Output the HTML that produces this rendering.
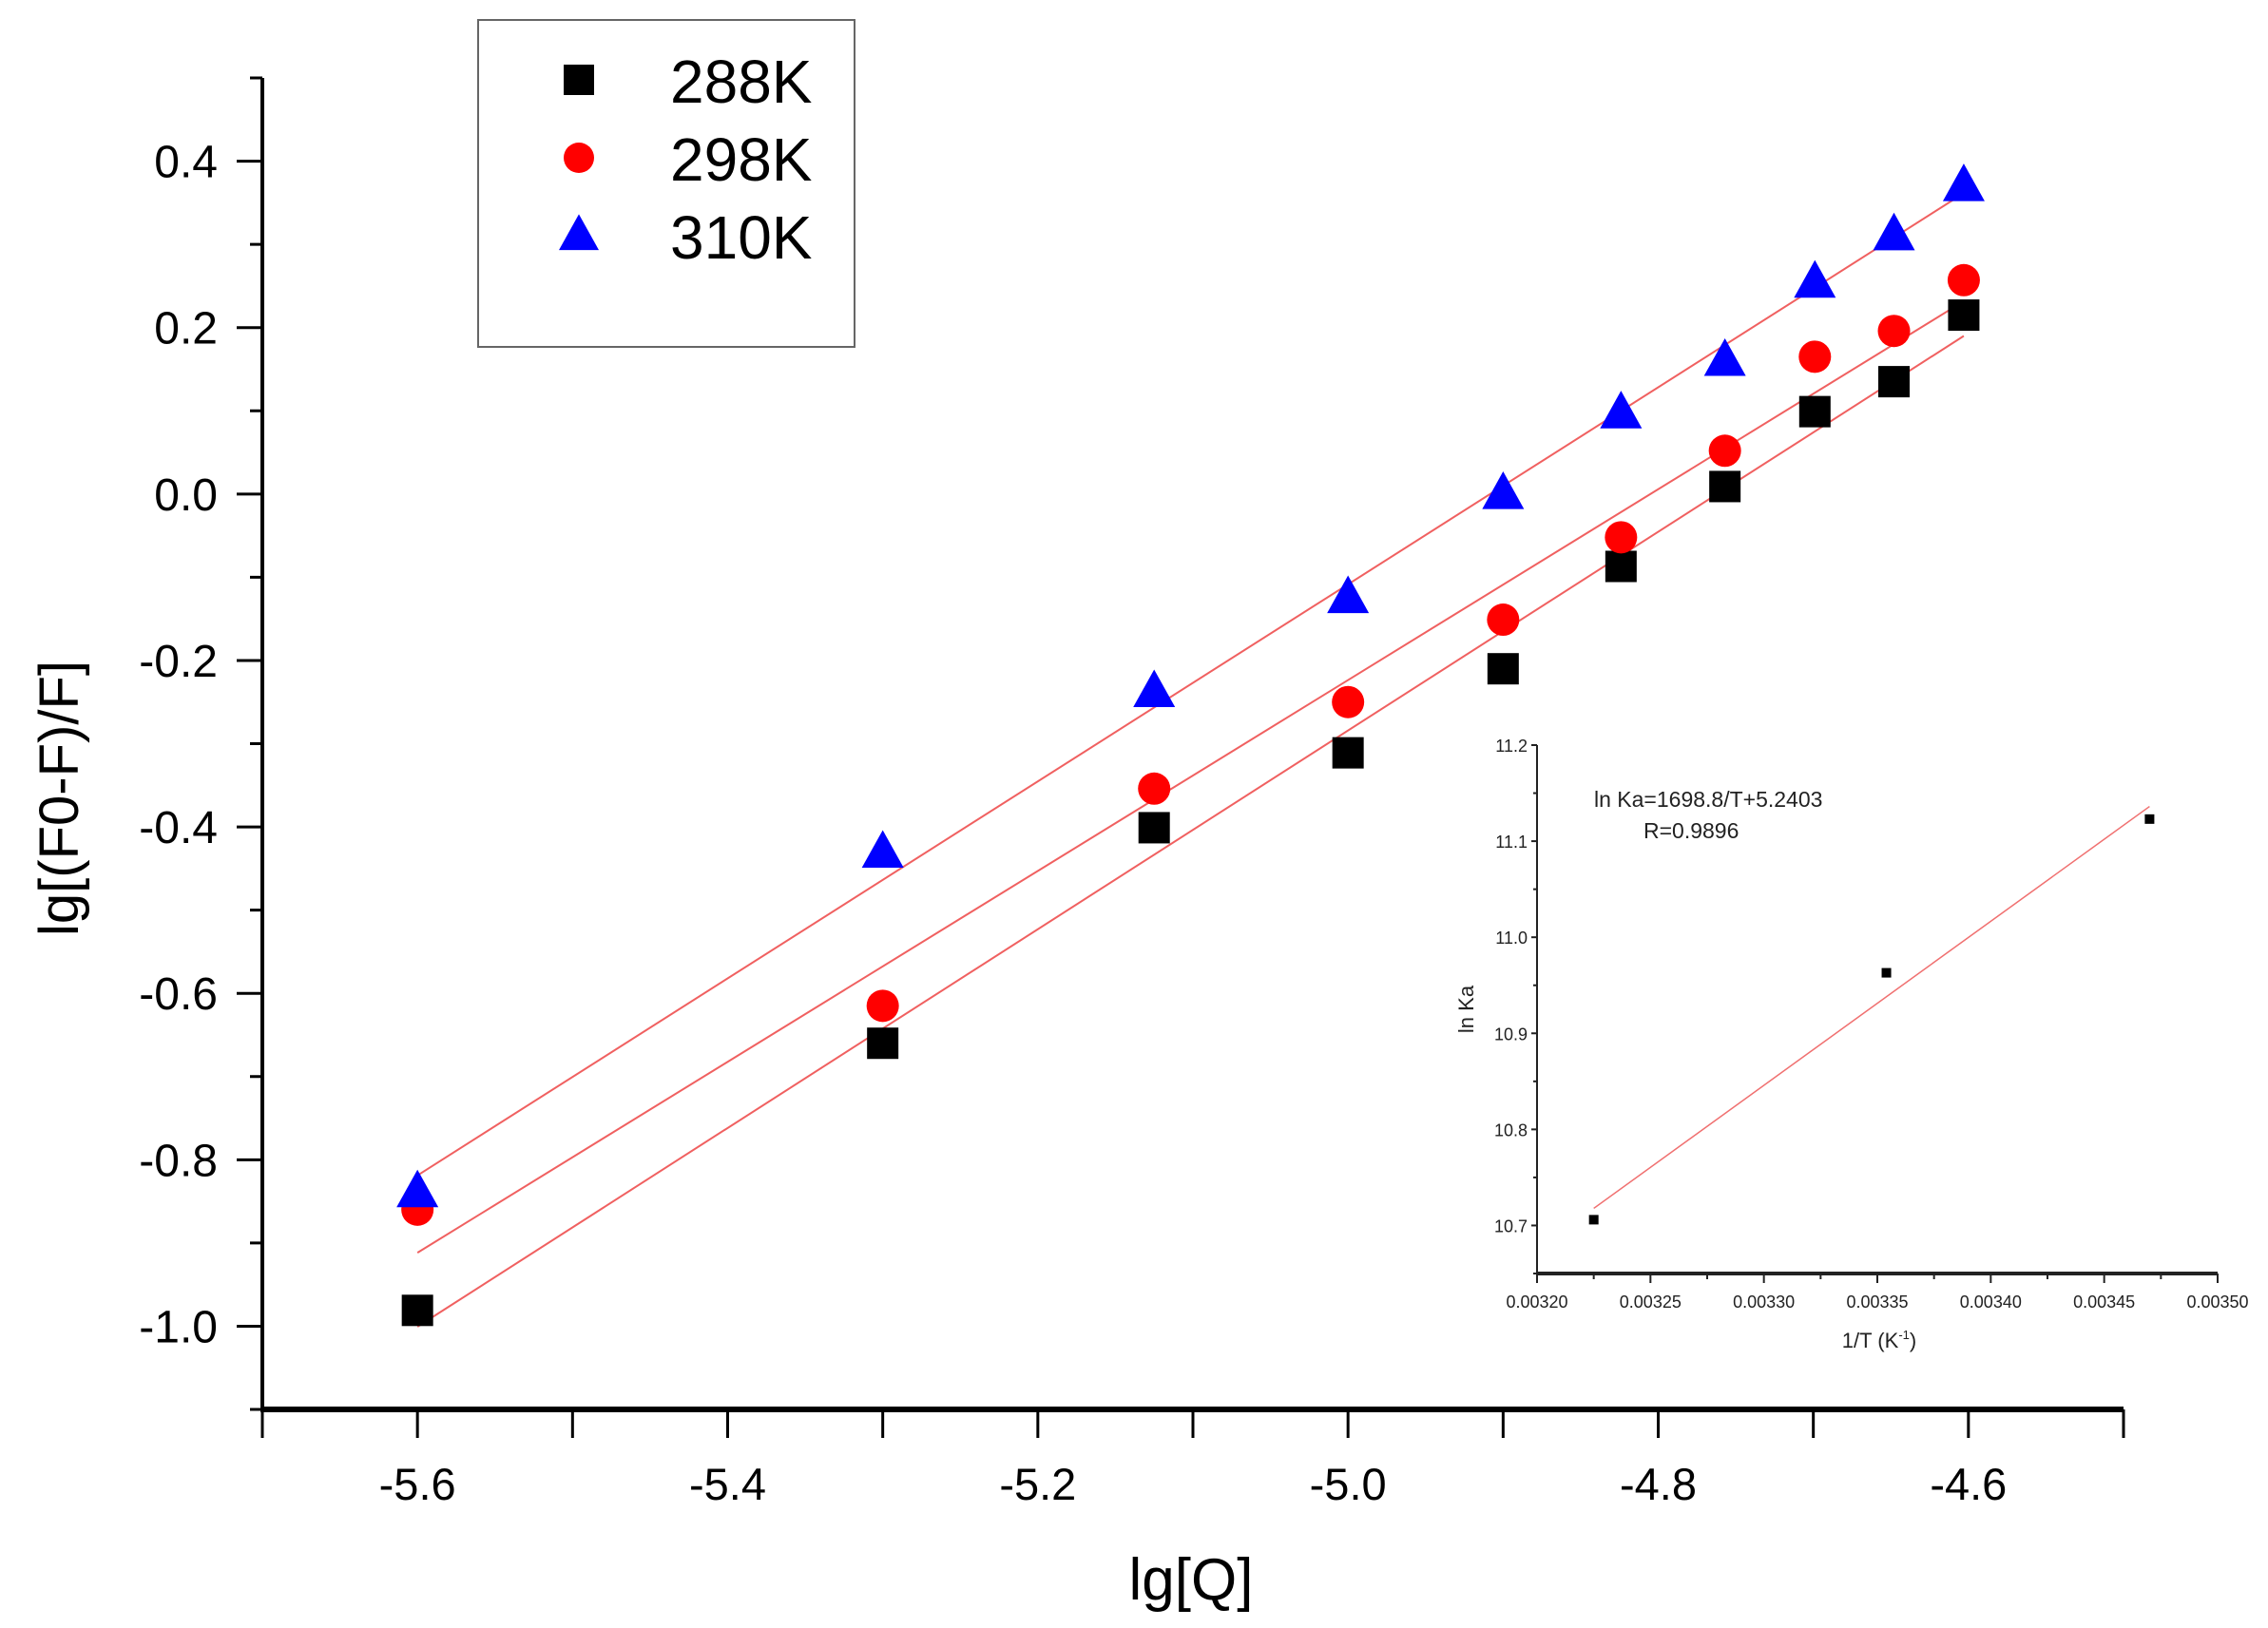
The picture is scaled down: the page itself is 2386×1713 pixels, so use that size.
<!DOCTYPE html>
<html><head><meta charset="utf-8"><style>
html,body{margin:0;padding:0;background:#fff;}
svg{display:block;font-family:"Liberation Sans",Arial,sans-serif;}
</style></head><body>
<svg id="chart" width="2386" height="1713" viewBox="0 0 2386 1713" xmlns="http://www.w3.org/2000/svg">
<rect width="2386" height="1713" fill="#fff"/>
<g id="main"></g>
<g id="inset"></g>
</svg>
<script>
const xValues = [-5.6, -5.3, -5.125, -5.0, -4.9, -4.824, -4.757, -4.699, -4.648, -4.603];
const series288 = [-0.981, -0.660, -0.401, -0.311, -0.210, -0.087, 0.009, 0.099, 0.135, 0.215];
const series298 = [-0.860, -0.615, -0.354, -0.250, -0.151, -0.052, 0.052, 0.165, 0.196, 0.257];
const series310 = [-0.839, -0.431, -0.238, -0.125, 0.000, 0.097, 0.160, 0.254, 0.311, 0.370];
const seriesNames = ["288K", "298K", "310K"];
const xTickLabels = ["-5.6", "-5.4", "-5.2", "-5.0", "-4.8", "-4.6"];
const yTickLabels = ["-1.0", "-0.8", "-0.6", "-0.4", "-0.2", "0.0", "0.2", "0.4"];
const insetX = [0.003225, 0.003354, 0.003470];
const insetY = [10.706, 10.963, 11.123];
const insetXTicks = ["0.00320", "0.00325", "0.00330", "0.00335", "0.00340", "0.00345", "0.00350"];
const insetYTicks = ["10.7", "10.8", "10.9", "11.0", "11.1", "11.2"];

const NS = "http://www.w3.org/2000/svg";
function mk(parent, tag, attrs, text) {
  const e = document.createElementNS(NS, tag);
  for (const k in attrs) e.setAttribute(k, attrs[k]);
  if (text !== undefined) e.textContent = text;
  parent.appendChild(e);
  return e;
}
const X0 = 276, X1 = 2234, Y0 = 1483, Y1 = 82;
const xMin = -5.7, xMax = -4.5, yMin = -1.1, yMax = 0.5;
const sx = v => X0 + (v - xMin) / (xMax - xMin) * (X1 - X0);
const sy = v => Y0 - (v - yMin) / (yMax - yMin) * (Y0 - Y1);
const main = document.getElementById("main");

let el;
el = mk(main, "line", {x1: X0, y1: Y1, x2: X0, y2: Y0 + 2, stroke: "#000", "stroke-width": 4});


el = mk(main, "line", {x1: X0 - 2, y1: Y0, x2: X1, y2: Y0, stroke: "#000", "stroke-width": 6});



for (let i = 0; i <= 12; i++) {
  const v = xMin + i * 0.1, x = sx(v);
  el = mk(main, "line", {x1: x, y1: Y0, x2: x, y2: Y0 + 30, stroke: "#000", "stroke-width": 3});
  
  
}
xTickLabels.forEach(t => {
  el = mk(main, "text", {x: sx(parseFloat(t)), y: 1578, "font-size": 47, "text-anchor": "middle"}, t);
  
  
});
for (let i = 0; i <= 16; i++) {
  const v = yMin + i * 0.1, y = sy(v);
  const major = (i % 2 === 1);
  el = mk(main, "line", {x1: major ? 249 : 263, y1: y, x2: X0, y2: y, stroke: "#000", "stroke-width": 3});
  
  
}
yTickLabels.forEach(t => {
  el = mk(main, "text", {x: 229, y: sy(parseFloat(t)) + 17, "font-size": 48, "text-anchor": "end"}, t);
  
  
});
el = mk(main, "text", {x: 0, y: 0, "font-size": 58, "text-anchor": "middle", transform: "translate(82,840) rotate(-90)"}, "lg[(F0-F)/F]");


el = mk(main, "text", {x: 1253, y: 1683, "font-size": 62, "text-anchor": "middle"}, "lg[Q]");



function fit(xs, ys) {
  const n = xs.length;
  const mx = xs.reduce((a, b) => a + b) / n, my = ys.reduce((a, b) => a + b) / n;
  let num = 0, den = 0;
  for (let i = 0; i < n; i++) { num += (xs[i] - mx) * (ys[i] - my); den += (xs[i] - mx) ** 2; }
  const m = num / den; return [m, my - m * mx];
}
function marker(g, kind, cx, cy, color, size) {
  let e;
  if (kind === "square") e = mk(g, "rect", {x: cx - size / 2, y: cy - size / 2, width: size, height: size, fill: color});
  else if (kind === "circle") e = mk(g, "circle", {cx: cx, cy: cy, r: size / 2, fill: color});
  else { const h = size * 0.9; e = mk(g, "polygon", {points: `${cx},${cy - h * 0.6} ${cx - size / 2},${cy + h * 0.4} ${cx + size / 2},${cy + h * 0.4}`, fill: color}); }
  return e;
}
const allSeries = [series288, series298, series310];
const kinds = ["square", "circle", "triangle"];
const colors = ["#000", "#f00", "#00f"];
const sizes = [33, 34, 44];
allSeries.forEach((ys, si) => {
  const [m, b] = fit(xValues, ys);
  const xa = xValues[0], xb = xValues[xValues.length - 1];
  el = mk(main, "line", {x1: sx(xa), y1: sy(m * xa + b), x2: sx(xb), y2: sy(m * xb + b), stroke: "#f06060", "stroke-width": 2});
  
  
});
allSeries.forEach((ys, si) => {
  ys.forEach((v, i) => {
    el = marker(main, kinds[si], sx(xValues[i]), sy(v), colors[si], sizes[si]);
    
    
  });
});
el = mk(main, "rect", {x: 503, y: 21, width: 396, height: 344, fill: "#fff", stroke: "#666", "stroke-width": 2});


seriesNames.forEach((n, i) => {
  const y = 84 + i * 82;
  el = marker(main, kinds[i], 609, y, colors[i], i === 2 ? 42 : 32);
  
  
  el = mk(main, "text", {x: 705, y: y + 24, "font-size": 64}, n);
  
  
});

const ins = document.getElementById("inset");
const IX0 = 1617, IX1 = 2333, IY0 = 1340, IY1 = 784;
const ixMin = 0.0032, ixMax = 0.0035, iyMin = 10.65, iyMax = 11.2;
const isx = v => IX0 + (v - ixMin) / (ixMax - ixMin) * (IX1 - IX0);
const isy = v => IY0 - (v - iyMin) / (iyMax - iyMin) * (IY0 - IY1);
el = mk(ins, "line", {x1: IX0, y1: IY1, x2: IX0, y2: IY0, stroke: "#222", "stroke-width": 2});


el = mk(ins, "line", {x1: IX0, y1: IY0, x2: IX1, y2: IY0, stroke: "#222", "stroke-width": 4});


for (let i = 0; i <= 12; i++) {
  const x = isx(ixMin + i * 0.000025);
  el = mk(ins, "line", {x1: x, y1: IY0, x2: x, y2: IY0 + (i % 2 ? 6 : 10), stroke: "#222", "stroke-width": 2});
  
  
}
insetXTicks.forEach(t => {
  el = mk(ins, "text", {x: isx(parseFloat(t)), y: 1376, "font-size": 18, "text-anchor": "middle", fill: "#222"}, t);
  
  
});
for (let i = 0; i <= 11; i++) {
  const y = isy(iyMin + i * 0.05);
  el = mk(ins, "line", {x1: IX0 - (i % 2 ? 6 : 4), y1: y, x2: IX0, y2: y, stroke: "#222", "stroke-width": 2});
  
  
}
insetYTicks.forEach(t => {
  el = mk(ins, "text", {x: 1607, y: isy(parseFloat(t)) + 7, "font-size": 18, "text-anchor": "end", fill: "#222"}, t);
  
  
});
el = mk(ins, "text", {x: 0, y: 0, "font-size": 22, "text-anchor": "middle", fill: "#222", transform: "translate(1550,1062) rotate(-90)"}, "ln Ka");


el = mk(ins, "text", {x: 1977, y: 1418, "font-size": 22, "text-anchor": "middle", fill: "#222"});
el.innerHTML = '1/T (K<tspan font-size="13" dy="-9">-1</tspan><tspan dy="9">)</tspan>';


const [im, ib] = fit(insetX, insetY);
el = mk(ins, "line", {x1: isx(insetX[0]), y1: isy(im * insetX[0] + ib), x2: isx(insetX[2]), y2: isy(im * insetX[2] + ib), stroke: "#f07070", "stroke-width": 1.5});


insetX.forEach((x, i) => {
  el = mk(ins, "rect", {x: isx(x) - 5, y: isy(insetY[i]) - 5, width: 10, height: 10, fill: "#000"});
  
  
});
el = mk(ins, "text", {x: 1677, y: 849, "font-size": 23, fill: "#222"}, "ln Ka=1698.8/T+5.2403");


el = mk(ins, "text", {x: 1729, y: 882, "font-size": 23, fill: "#222"}, "R=0.9896");


</script>
</body></html>
